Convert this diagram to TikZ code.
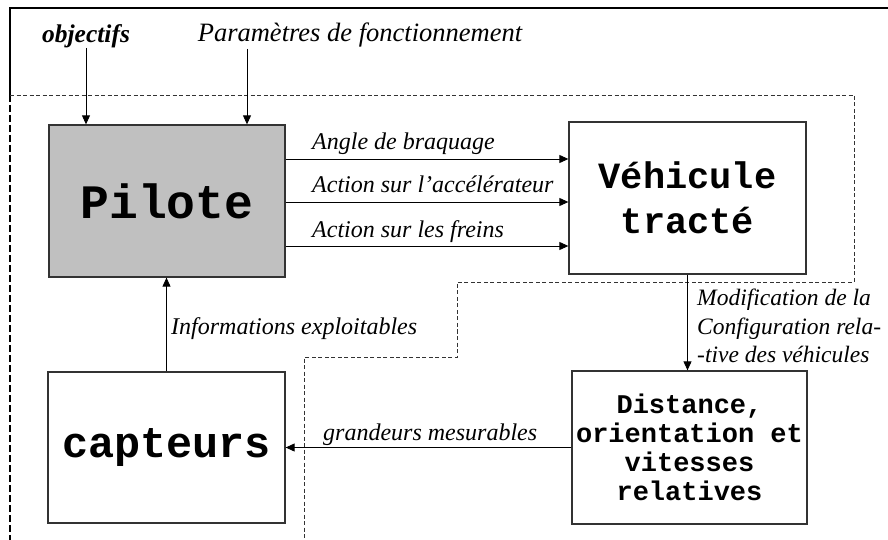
\documentclass[tikz,border=0pt]{standalone}
\usepackage{fontspec}
\setmainfont{Liberation Serif}
\setmonofont{Liberation Mono}
\usetikzlibrary{arrows.meta}
\definecolor{grispilote}{HTML}{C0C0C0}
\definecolor{bord}{HTML}{333333}
\begin{document}
\begin{tikzpicture}[x=1pt, y=-1pt,
  bloc/.style={draw=bord, line width=1.3pt, inner sep=0pt, align=center,
    font=\ttfamily\bfseries},
  etiq/.style={inner sep=0pt, font=\fontsize{24}{28}\selectfont\itshape},
  fleche/.style={line width=0.9pt, -{Triangle[length=9pt, width=8pt]}},
  pointille/.style={line width=0.8pt, draw=black!80, dash pattern=on 4pt off 2.5pt}]
  \useasboundingbox (0,0) rectangle (888,540);

  % Draw the frame
  \draw[line width=2.6pt] (10,95) -- (10,8) -- (890,8);
  \draw[line width=2.6pt, dash pattern=on 7pt off 3pt] (10,95) -- (10,542);
  \draw[pointille] (10,95) -- (854,95) -- (854,282) -- (457,282) -- (457,357)
    -- (304,357) -- (304,542);

  % Draw the blocks
  \node[bloc, fill=grispilote, minimum width=236pt, minimum height=152pt,
    font=\ttfamily\bfseries\fontsize{48}{50}\selectfont] (pilote) at (167,201) {Pilote};
  \node[bloc, minimum width=237pt, minimum height=152pt,
    font=\ttfamily\bfseries\fontsize{37}{45}\selectfont] (vehicule) at (687.5,198) {Véhicule\\tracté};
  \node[bloc, minimum width=237pt, minimum height=151pt,
    font=\ttfamily\bfseries\fontsize{43.5}{45}\selectfont] (capteurs) at (166.5,447.5) {capteurs};
  \node[bloc, minimum width=235pt, minimum height=153pt,
    font=\ttfamily\bfseries\fontsize{27}{29}\selectfont] (distance) at (689.5,447.5)
    {Distance,\\orientation et\\vitesses\\relatives};

  % Draw the inputs
  \node[etiq, font=\fontsize{25.5}{28}\selectfont\bfseries\itshape] (obj) at (86,36) {objectifs};
  \node[etiq, font=\fontsize{26.5}{28}\selectfont\itshape] (param) at (360,35) {Paramètres de fonctionnement};
  \coordinate (parm) at (247,49);
  \draw[fleche] (obj.south) -- (obj.south |- pilote.north);
  \draw[fleche] (parm) -- (parm |- pilote.north);

  % Draw the commands
  \coordinate (c1) at (300,159);
  \coordinate (c2) at (300,202);
  \coordinate (c3) at (300,246);
  \draw[fleche] (c1 -| pilote.east) -- (c1 -| vehicule.west);
  \draw[fleche] (c2 -| pilote.east) -- (c2 -| vehicule.west);
  \draw[fleche] (c3 -| pilote.east) -- (c3 -| vehicule.west);
  \node[etiq, anchor=base west] (l1) at (312,150) {Angle de braquage};
  \node[etiq, anchor=base west] (l2) at (312,193) {Action sur l’accélérateur};
  \node[etiq, anchor=base west] (l3) at (312,237) {Action sur les freins};

  % Draw the loop
  \draw[fleche] (vehicule.south) -- (vehicule.south |- distance.north);
  \node[etiq, anchor=north west, align=left, font=\fontsize{23.5}{28.5}\selectfont\itshape]
    (modif) at (697,289) {Modification de la\\Configuration rela-\\-tive des véhicules};
  \draw[fleche] (distance.west) -- (capteurs.east);
  \node[etiq, anchor=base west] (grand) at (323,440) {grandeurs mesurables};
  \draw[fleche] (capteurs.north) -- (capteurs.north |- pilote.south);
  \node[etiq, anchor=base west] (info) at (171,334) {Informations exploitables};
\end{tikzpicture}
\end{document}
